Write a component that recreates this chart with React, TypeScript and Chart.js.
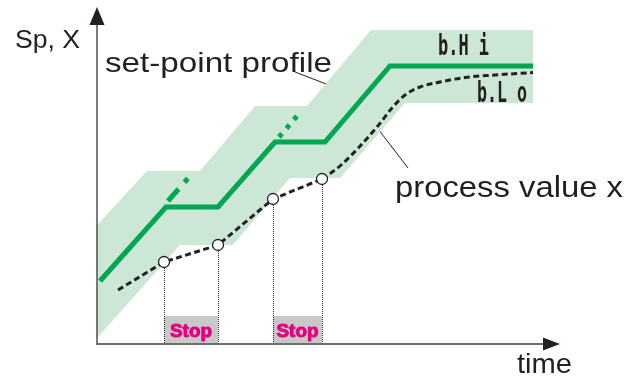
import React, { useEffect, useRef } from "react";
import { Chart, registerables } from "chart.js";

Chart.register(...registerables);

// ---- data (time units across, Sp/X units up) ----
const setpointTime = [3, 69, 121, 178, 228, 293, 436];
const setpointValue = [63, 137, 137, 202, 202, 278, 278];

// dotted continuation of the ramp while the programme is stopped
const contATime = [71, 93];
const contAValue = [143, 168];
const contBTime = [182, 200];
const contBValue = [207, 228];

// tolerance band b.Hi / b.Lo around the set-point
const bandHighTime = [0, 50, 103, 158, 210, 274, 436];
const bandHighValue = [119, 173, 173, 238, 238, 314, 314];
const bandLowTime = [0, 83, 136, 193, 243, 308, 436];
const bandLowValue = [6, 99, 99, 166, 166, 241, 241];

// process value x
const processRampTime = [21, 67, 121, 176, 225];
const processRampValue = [54, 82, 99, 145, 165];
const processSettleTime = [225, 243, 280, 295, 308, 323, 343, 368, 398, 436];
const processSettleValue = [165, 178, 217, 236, 249, 257, 262, 266.5, 269, 271.5];

// stop intervals
const stopStart = [67, 176];
const stopEnd = [121, 225];
const stopLabels = ["Stop", "Stop"];

// leader lines (time, value)
const leaderSetpoint = [
  [198, 272],
  [263, 247],
];
const leaderProcess = [
  [278, 219],
  [311, 176],
];

const INK = "#231f20";
const GREEN = "#00a651";
const BAND = "#cde7d6";

const toXY = (ts: number[], vs: number[]) => ts.map((t, i) => ({ x: t, y: vs[i] }));

function fitText(
  ctx: CanvasRenderingContext2D,
  text: string,
  x: number,
  y: number,
  width: number,
  font: string,
  color: string,
  stroke = 0
) {
  ctx.save();
  ctx.font = font;
  const w = ctx.measureText(text).width;
  ctx.translate(x, y);
  ctx.scale(width / w, 1);
  ctx.fillStyle = color;
  ctx.textAlign = "left";
  ctx.textBaseline = "alphabetic";
  ctx.fillText(text, 0, 0);
  if (stroke > 0) {
    ctx.strokeStyle = color;
    ctx.lineWidth = stroke;
    ctx.lineJoin = "round";
    ctx.strokeText(text, 0, 0);
  }
  ctx.restore();
}

const labels = [
  { text: "Sp, X", x: 15, y: 48, w: 65, font: "25px 'Liberation Sans'" },
  { text: "set-point profile", x: 105, y: 72, w: 227, font: "28px 'Liberation Sans'" },
  { text: "process value x", x: 395, y: 197, w: 228, font: "29px 'Liberation Sans'" },
  { text: "time", x: 517, y: 373, w: 55, font: "28px 'Liberation Sans'" },
  { text: "b.H i", x: 438, y: 55, w: 51, font: "bold 28px 'DejaVu Sans Mono'" },
  { text: "b.L o", x: 477, y: 102, w: 50, font: "bold 28px 'DejaVu Sans Mono'" },
];

function valueAt(t: number) {
  const i = processRampTime.indexOf(t);
  return i >= 0 ? processRampValue[i] : 0;
}

const decorPlugin = {
  id: "decor",
  beforeDatasetsDraw(chart: any) {
    const { ctx, scales } = chart;
    const x = scales.x;
    const y = scales.y;
    const y0 = y.getPixelForValue(0);
    ctx.save();
    // stop boxes
    stopStart.forEach((s, i) => {
      const xs = x.getPixelForValue(s);
      const xe = x.getPixelForValue(stopEnd[i]);
      const top = y.getPixelForValue(28);
      ctx.fillStyle = "#c8c8c8";
      ctx.fillRect(xs, top, xe - xs, y0 - top);
      fitText(ctx, stopLabels[i], (xs + xe) / 2 - 21, y0 - 7, 42, "bold 18px 'Liberation Sans'", "#e5007d", 0.9);
    });
    // dotted drop lines
    ctx.strokeStyle = "#333";
    ctx.lineWidth = 1;
    ctx.setLineDash([1, 1]);
    [...stopStart, ...stopEnd].forEach((t) => {
      const px = Math.round(x.getPixelForValue(t)) + 0.5;
      ctx.beginPath();
      ctx.moveTo(px, y.getPixelForValue(valueAt(t)));
      ctx.lineTo(px, y0);
      ctx.stroke();
    });
    ctx.setLineDash([]);
    // leader lines
    ctx.strokeStyle = INK;
    ctx.lineWidth = 1;
    [leaderSetpoint, leaderProcess].forEach((l) => {
      ctx.beginPath();
      ctx.moveTo(x.getPixelForValue(l[0][0]), y.getPixelForValue(l[0][1]));
      ctx.lineTo(x.getPixelForValue(l[1][0]), y.getPixelForValue(l[1][1]));
      ctx.stroke();
    });
    ctx.restore();
  },
  afterDraw(chart: any) {
    const { ctx, chartArea } = chart;
    const { left, right, top, bottom } = chartArea;
    ctx.save();
    // y axis
    ctx.strokeStyle = "#444";
    ctx.lineWidth = 1.4;
    ctx.beginPath();
    ctx.moveTo(left, bottom);
    ctx.lineTo(left, top + 14);
    ctx.stroke();
    ctx.fillStyle = INK;
    ctx.beginPath();
    ctx.moveTo(left, top);
    ctx.lineTo(left - 7.5, top + 18);
    ctx.lineTo(left + 7.5, top + 18);
    ctx.closePath();
    ctx.fill();
    // x axis
    ctx.strokeStyle = "#6e6e6e";
    ctx.lineWidth = 2;
    ctx.beginPath();
    ctx.moveTo(left - 1, bottom);
    ctx.lineTo(right - 14, bottom);
    ctx.stroke();
    ctx.beginPath();
    ctx.moveTo(right, bottom);
    ctx.lineTo(right - 17, bottom - 6.5);
    ctx.lineTo(right - 17, bottom + 6.5);
    ctx.closePath();
    ctx.fill();
    ctx.restore();
    labels.forEach((l) => fitText(ctx, l.text, l.x, l.y, l.w, l.font, INK));
  },
};

export default function App() {
  const ref = useRef<HTMLCanvasElement | null>(null);
  useEffect(() => {
    if (!ref.current) return;
    const stopEdges = [...stopStart, ...stopEnd];
    const chart = new Chart(ref.current, {
      type: "line",
      data: {
        datasets: [
          {
            label: "b.Hi",
            data: toXY(bandHighTime, bandHighValue),
            borderWidth: 0,
            backgroundColor: BAND,
            fill: "+1",
            pointRadius: 0,
            order: 10,
          },
          {
            label: "b.Lo",
            data: toXY(bandLowTime, bandLowValue),
            borderWidth: 0,
            fill: false,
            pointRadius: 0,
            order: 10,
          },
          {
            label: "set-point profile",
            data: toXY(setpointTime, setpointValue),
            borderColor: GREEN,
            borderWidth: 5,
            borderJoinStyle: "miter",
            pointRadius: 0,
            fill: false,
            order: 3,
          },
          {
            label: "continuation A",
            data: toXY(contATime, contAValue),
            borderColor: GREEN,
            borderWidth: 5,
            borderDash: [16, 9, 5, 100],
            borderCapStyle: "butt",
            pointRadius: 0,
            fill: false,
            order: 3,
          },
          {
            label: "continuation B",
            data: toXY(contBTime, contBValue),
            borderColor: GREEN,
            borderWidth: 5,
            borderDash: [4.5, 7],
            borderCapStyle: "butt",
            pointRadius: 0,
            fill: false,
            order: 3,
          },
          {
            label: "process value x",
            data: toXY(processRampTime, processRampValue),
            borderColor: "#222",
            borderWidth: 3,
            borderDash: [6, 3.5],
            pointRadius: (c: any) => (stopEdges.includes(processRampTime[c.dataIndex]) ? 5.5 : 0),
            pointBackgroundColor: "#fff",
            pointBorderColor: "#222",
            pointBorderWidth: 1.3,
            fill: false,
            order: 1,
          },
          {
            label: "process value x (settling)",
            data: toXY(processSettleTime, processSettleValue),
            borderColor: "#222",
            borderWidth: 3,
            borderDash: [6, 3.5],
            cubicInterpolationMode: "monotone",
            pointRadius: 0,
            fill: false,
            order: 2,
          },
        ],
      },
      options: {
        animation: false,
        responsive: false,
        devicePixelRatio: 1,
        layout: { padding: { left: 97, right: 79, top: 7, bottom: 35 } },
        plugins: { legend: { display: false }, tooltip: { enabled: false } },
        scales: {
          x: { type: "linear", min: 0, max: 463, display: false },
          y: { type: "linear", min: 0, max: 337, display: false },
        },
      } as any,
      plugins: [decorPlugin],
    });
    return () => chart.destroy();
  }, []);
  return (
    <div style={{ position: "absolute", left: 0, top: 0, width: 639, height: 379, background: "#fff" }}>
      <canvas ref={ref} width={639} height={379} style={{ width: 639, height: 379, display: "block" }} />
    </div>
  );
}
